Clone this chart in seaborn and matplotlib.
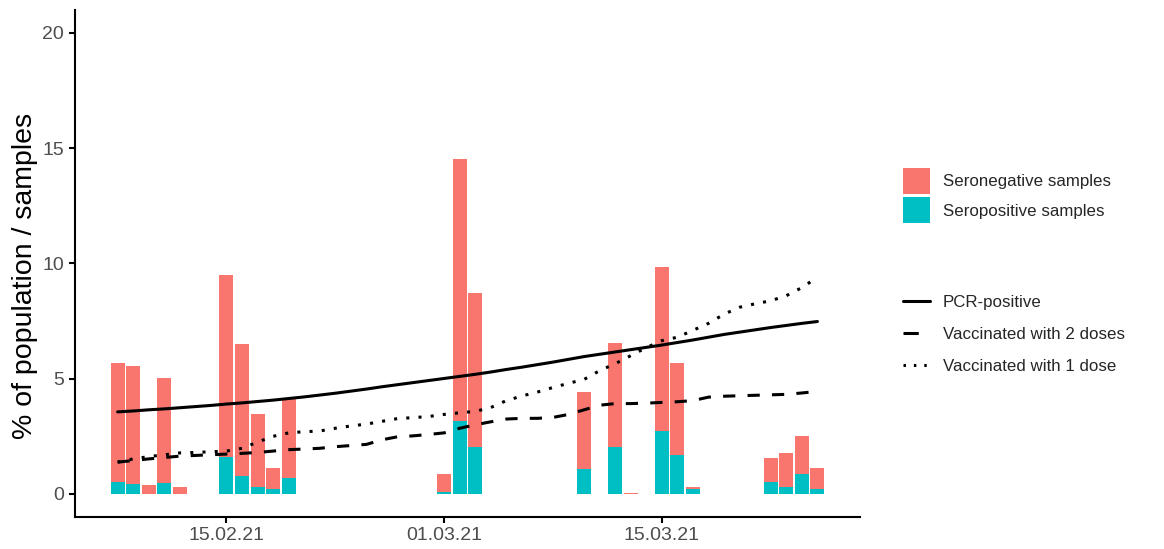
import numpy as np
import pandas as pd
import matplotlib
matplotlib.use("Agg")
import matplotlib.pyplot as plt
import matplotlib.dates as mdates
from matplotlib.patches import Patch
from matplotlib.lines import Line2D
import seaborn as sns

# ---- sample counts (% of population) per sampling day ----
bar_dates = ["2021-02-08", "2021-02-09", "2021-02-10", "2021-02-11", "2021-02-12",
             "2021-02-15", "2021-02-16", "2021-02-17", "2021-02-18", "2021-02-19",
             "2021-03-01", "2021-03-02", "2021-03-03",
             "2021-03-10", "2021-03-12", "2021-03-13",
             "2021-03-15", "2021-03-16", "2021-03-17",
             "2021-03-22", "2021-03-23", "2021-03-24", "2021-03-25"]
seropositive = [0.53, 0.45, 0.00, 0.47, 0.00,
                1.62, 0.79, 0.32, 0.22, 0.71,
                0.07, 3.16, 2.03,
                1.10, 2.05, 0.00,
                2.71, 1.69, 0.20,
                0.52, 0.30, 0.87, 0.20]
seronegative = [5.15, 5.09, 0.39, 4.55, 0.29,
                7.89, 5.70, 3.13, 0.92, 3.40,
                0.80, 11.37, 6.68,
                3.31, 4.52, 0.03,
                7.12, 3.97, 0.10,
                1.05, 1.47, 1.66, 0.93]

# ---- cumulative daily curves, 08.02.21 - 25.03.21 ----
line_start = "2021-02-08"
pcr_positive = [3.56, 3.60, 3.65, 3.69, 3.74, 3.79, 3.84, 3.90, 3.95, 4.01,
                4.07, 4.14, 4.21, 4.29, 4.37, 4.46, 4.55, 4.65, 4.74, 4.83,
                4.92, 5.01, 5.10, 5.19, 5.29, 5.40, 5.50, 5.61, 5.72, 5.84,
                5.96, 6.06, 6.16, 6.26, 6.36, 6.46, 6.57, 6.68, 6.80, 6.92,
                7.02, 7.12, 7.22, 7.31, 7.40, 7.48]
vacc_2_doses = [1.38, 1.45, 1.52, 1.58, 1.64, 1.67, 1.70, 1.73, 1.76, 1.80,
                1.86, 1.92, 1.95, 1.98, 2.05, 2.10, 2.15, 2.35, 2.48, 2.52,
                2.58, 2.65, 2.85, 3.00, 3.13, 3.25, 3.28, 3.28, 3.32, 3.45,
                3.65, 3.85, 3.92, 3.92, 3.94, 3.97, 4.00, 4.05, 4.20, 4.24,
                4.26, 4.28, 4.30, 4.32, 4.38, 4.45]
vacc_1_dose = [1.38, 1.52, 1.62, 1.70, 1.78, 1.80, 1.83, 1.86, 1.98, 2.25,
               2.50, 2.65, 2.70, 2.73, 2.85, 2.95, 3.03, 3.15, 3.27, 3.31,
               3.36, 3.45, 3.52, 3.58, 3.75, 4.05, 4.25, 4.42, 4.62, 4.80,
               4.97, 5.35, 5.65, 6.00, 6.35, 6.65, 6.80, 7.10, 7.40, 7.80,
               8.10, 8.25, 8.38, 8.60, 8.95, 9.40]

tick_dates = ["2021-02-15", "2021-03-01", "2021-03-15"]
y_ticks = [0, 5, 10, 15, 20]

NEG_LABEL = "Seronegative samples"
POS_LABEL = "Seropositive samples"
colors = {NEG_LABEL: "#F8766D", POS_LABEL: "#00BFC4"}

sns.set_theme(style="white")
plt.rcParams["font.family"] = ["Liberation Sans", "DejaVu Sans"]

bar_x = mdates.date2num(pd.to_datetime(bar_dates))
bars = pd.concat([
    pd.DataFrame({"day": bar_x, "value": seronegative, "group": NEG_LABEL}),
    pd.DataFrame({"day": bar_x, "value": seropositive, "group": POS_LABEL}),
], ignore_index=True)

line_days = mdates.date2num(pd.date_range(line_start, periods=len(pcr_positive), freq="D"))

fig = plt.figure(figsize=(11.64, 5.49), dpi=100)
ax = fig.add_axes([0.0644, 0.0583, 0.6745, 0.9237])

sns.histplot(data=bars, x="day", weights="value", hue="group",
             hue_order=[NEG_LABEL, POS_LABEL], palette=colors,
             multiple="stack", discrete=True, shrink=0.9,
             alpha=1, linewidth=0, edgecolor="none", legend=False, ax=ax)

lw = 2.2
dash_2 = (0, (4, 4))
dot_1 = (0, (1, 3))
sns.lineplot(x=line_days, y=pcr_positive, color="black", linewidth=lw,
             linestyle="-", ax=ax)
sns.lineplot(x=line_days, y=vacc_2_doses, color="black", linewidth=lw,
             linestyle=dash_2, ax=ax)
sns.lineplot(x=line_days, y=vacc_1_dose, color="black", linewidth=lw,
             linestyle=dot_1, ax=ax)

# axis ranges with a small expansion around the data
x0 = bar_x.min() - 0.45
x1 = bar_x.max() + 0.45
pad = 0.05 * (x1 - x0)
ax.set_xlim(x0 - pad, x1 + pad)
ax.set_ylim(-1, 21)

ax.set_xticks(mdates.date2num(pd.to_datetime(tick_dates)))
ax.xaxis.set_major_formatter(mdates.DateFormatter("%d.%m.%y"))
ax.set_yticks(y_ticks)
ax.set_xlabel("")
ax.set_ylabel("% of population / samples", fontsize=20.5, color="black")
ax.yaxis.set_label_coords(-0.047, 0.475)

for side in ("top", "right"):
    ax.spines[side].set_visible(False)
for side in ("left", "bottom"):
    ax.spines[side].set_linewidth(1.5)
    ax.spines[side].set_color("black")
ax.tick_params(axis="both", which="major", length=4, width=1.5, color="black",
               labelsize=14, labelcolor="#4D4D4D", bottom=True, left=True)
ax.tick_params(axis="x", pad=3)
ax.tick_params(axis="y", pad=4)
ax.grid(False)

fill_handles = [Patch(facecolor=colors[NEG_LABEL], edgecolor="none", label=NEG_LABEL),
                Patch(facecolor=colors[POS_LABEL], edgecolor="none", label=POS_LABEL)]
leg1 = fig.legend(handles=fill_handles, loc="upper left",
                  bbox_to_anchor=(0.776, 0.694), frameon=False, fontsize=12.2,
                  handlelength=1.6, handleheight=2.0, handletextpad=0.75,
                  labelspacing=0.18, borderaxespad=0, borderpad=0)

line_handles = [Line2D([], [], color="black", linewidth=lw, linestyle="-"),
                Line2D([], [], color="black", linewidth=lw, linestyle=(0, (5, 8))),
                Line2D([], [], color="black", linewidth=lw, linestyle=(0, (0.8, 2.6)))]
line_labels = ["PCR-positive", "Vaccinated with 2 doses", "Vaccinated with 1 dose"]
leg2 = fig.legend(handles=line_handles, labels=line_labels, loc="upper left",
                  bbox_to_anchor=(0.776, 0.463), frameon=False, fontsize=12.2,
                  handlelength=1.6, handletextpad=0.75, labelspacing=1.02,
                  borderaxespad=0, borderpad=0)

fig.savefig("out.png", dpi=100, facecolor="white")
